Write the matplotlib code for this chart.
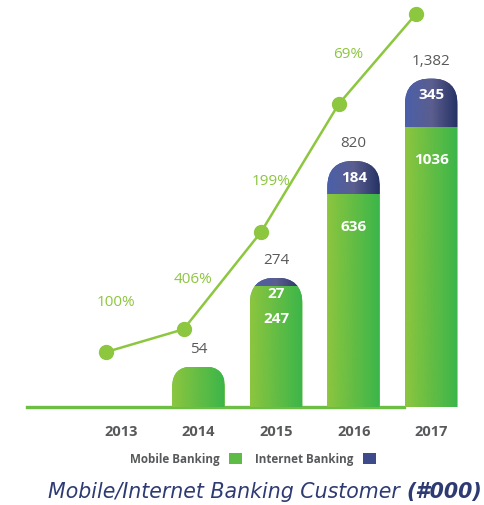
import numpy as np
import matplotlib.pyplot as plt
from matplotlib.patches import FancyBboxPatch, Patch
from matplotlib.transforms import IdentityTransform, offset_copy
from matplotlib.colors import LinearSegmentedColormap

plt.rcParams['font.family'] = ['Open Sans', 'DejaVu Sans']

# data (customers, '000)
years = ["2013", "2014", "2015", "2016", "2017"]
mobile = [0, 54, 247, 636, 1036]
internet = [0, 0, 27, 184, 345]
totals = [0, 54, 274, 820, 1382]
# growth line: level per year and growth to the next year
growth_level = [27, 54, 274, 820, 1382]
growth_labels = ["100%", "406%", "199%", "69%", ""]

GREEN = "#8DC63F"
GRAY = "#58595B"
NAVY = "#2E3B73"
green_cmap = LinearSegmentedColormap.from_list("g", ["#8CC63F", "#3AB54A"])
blue_cmap = LinearSegmentedColormap.from_list("b", ["#4B60AA", "#5B5E8F", "#253163"])

fig = plt.figure(figsize=(4.84, 5.05), dpi=100)
ax = fig.add_axes([0, 0.194, 1, 0.806])
x = np.arange(len(years))
width = 0.68

ax.set_yscale("function", functions=(np.sqrt, np.square))
ax.set_xlim(-1.56, 4.68)
ax.set_ylim(10, 2050)
for s in ax.spines.values():
    s.set_visible(False)
ax.set_yticks([])
ax.set_xticks(x)
ax.set_xticklabels(years, fontsize=10.5, fontweight="bold", color=GRAY)
ax.tick_params(axis="x", length=0, pad=13)

# baseline
ax.axhline(10, xmin=0.056, xmax=0.835, color="#6CBE45", lw=2.4, clip_on=False, zorder=1)

bars_m = ax.bar(x, mobile, width, color="#5DBB46", zorder=2)
bars_i = ax.bar(x, internet, width, bottom=mobile, color="#3D4B8A", zorder=2)

grad = np.linspace(0, 1, 256).reshape(1, -1)
ylo = ax.get_ylim()[0]
for i in range(len(years)):
    if totals[i] <= 0:
        continue
    (dx0, dy0), (dx1, dy1) = ax.transData.transform(
        [(x[i] - width / 2, ylo), (x[i] + width / 2, mobile[i] + internet[i])])
    r = min((dx1 - dx0) / 2, (dy1 - dy0) * 0.5)
    clip = FancyBboxPatch((dx0, dy0 - r), dx1 - dx0, dy1 - dy0 + r,
                          boxstyle=f"round,pad=0,rounding_size={r}",
                          transform=IdentityTransform())
    for rect, cmap in ((bars_m[i], green_cmap), (bars_i[i], blue_cmap)):
        if rect.get_height() <= 0:
            continue
        rect.set_clip_path(clip)
        bottom = max(rect.get_y(), ylo)
        im = ax.imshow(grad, cmap=cmap, aspect="auto", interpolation="bicubic",
                       extent=(rect.get_x(), rect.get_x() + rect.get_width(),
                               bottom, rect.get_y() + rect.get_height()),
                       zorder=3)
        im.set_clip_path(clip)

    ax.annotate(f"{totals[i]:,}", (x[i], mobile[i] + internet[i]), xytext=(0, 7),
                textcoords="offset points", ha="center", va="bottom",
                fontsize=11, color=GRAY)
    if internet[i] > 0:
        ax.annotate(str(internet[i]), (x[i], mobile[i] + internet[i]), xytext=(0, -12),
                    textcoords="offset points", ha="center", va="center",
                    fontsize=11, color="white", fontweight="bold", zorder=5)
        ax.annotate(str(mobile[i]), (x[i], mobile[i]), xytext=(0, -24),
                    textcoords="offset points", ha="center", va="center",
                    fontsize=11, color="white", fontweight="bold", zorder=5)

ax.set_xlim(-1.56, 4.68)
ax.set_ylim(10, 2050)

# growth line on its own (hidden) axis
ax2 = ax.twinx()
ax2.set_yscale("function", functions=(np.sqrt, np.square))
ax2.set_ylim(0, 1480)
ax2.set_axis_off()
line_tr = offset_copy(ax2.transData, fig=fig, x=-0.15, y=0, units="inches")
ax2.plot(x, growth_level, color=GREEN, lw=1.8, marker="o", markersize=10,
         transform=line_tr, clip_on=False)
for i, lab in enumerate(growth_labels):
    if lab:
        ax2.annotate(lab, (x[i], growth_level[i]), xycoords=line_tr,
                     xytext=(7, 36), textcoords="offset points",
                     ha="center", va="center", fontsize=11, color=GREEN)

fig.legend(handles=[Patch(facecolor="#5DBB46"), Patch(facecolor="#3D4B8A")],
           labels=["Mobile Banking", "Internet Banking"], ncol=2,
           loc="center", bbox_to_anchor=(0.523, 0.091), frameon=False,
           markerfirst=False, handlelength=1.15, handleheight=1.15,
           handletextpad=0.8, columnspacing=1.1,
           prop={"weight": "bold", "size": 8.4}, labelcolor=GRAY)

t1 = fig.text(0.099, 0.026, "Mobile/Internet Banking Customer ", fontsize=14.8,
              family="DejaVu Sans", style="italic", color=NAVY, va="center")
ax.annotate("(#000)", xy=(1, 0.5), xycoords=t1, ha="left", va="center",
            fontsize=14.8, family="DejaVu Sans", style="italic", fontweight="bold",
            color=NAVY, annotation_clip=False)

fig.savefig("out.png", dpi=100)
